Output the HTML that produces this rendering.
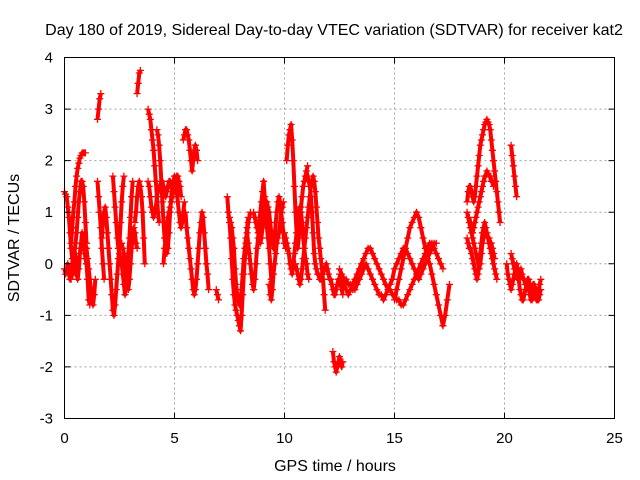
<!DOCTYPE html>
<html><head><meta charset="utf-8"><style>
body{margin:0;background:#fff}
svg{display:block;font-family:"Liberation Sans",Arial,sans-serif;font-size:14px}
</style></head><body>
<svg id="chart" width="640" height="480" viewBox="0 0 640 480">
<rect width="640" height="480" fill="#fff"/>
<g id="grid"></g>
<g id="pts"></g>
<rect x="64.5" y="57.5" width="550" height="361" fill="none" stroke="#000" stroke-width="1"/>
<g id="ticks"></g>
<text x="334" y="35" text-anchor="middle" font-size="16">Day 180 of 2019, Sidereal Day-to-day VTEC variation (SDTVAR) for receiver kat2</text>
<text x="335" y="471" text-anchor="middle" font-size="16">GPS time / hours</text>
<text transform="translate(19,238) rotate(-90)" text-anchor="middle" font-size="16">SDTVAR / TECUs</text>
</svg>
<script>
const xTicks=[0,5,10,15,20,25];
const yTicks=[-3,-2,-1,0,1,2,3,4];
const segStarts=[0,0.3,0.3,0,1.5,1.5,1.7,2.2,2.6,3.3,3.2,3.8,3.8,4.2,4.5,5.4,5.5,6.9,7.4,7.5,8.3,8.6,9.3,10.1,10.0,10.5,11.0,12.2,12.5,12.5,15.0,18.3,18.3,18.3,18.4,20.3,20.1,20.3];
const segSteps=[0.05,0.05,0.05,0.05,0.05,0.05,0.05,0.05,0.05,0.05,0.05,0.05,0.05,0.05,0.05,0.05,0.05,0.05,0.05,0.05,0.05,0.05,0.05,0.05,0.05,0.05,0.05,0.05,0.1,0.1,0.1,0.05,0.05,0.05,0.05,0.05,0.05,0.05];
const segValues=[
[1.4,1.35,1.3,1.1,0.9,0.6,0.3,0.1,0.0,-0.1,-0.2,-0.1,0,0.1,0.2,0.3,0.4,0.5,0.5,0.4,0.3,0.1,-0.1,-0.3,-0.5,-0.7,-0.8,-0.6,-0.3],
[0.4,0.7,1.0,1.2,1.5,1.7,1.85,1.95,2.05,2.1,2.15,2.15,2.15,2.15],
[-0.3,-0.2,0,0.2,0.4,0.6,0.9,1.2,1.4,1.6,1.6,1.5,1.2,0.8,0.4],
[-0.1,-0.2,-0.1,0,-0.2,-0.3,-0.2,0,0.2,0.3,0.1,-0.1,-0.3,-0.1,0.2,0.4,0.6,0.5,0.3,0.1,0.0,-0.3,-0.7,-0.8],
[2.8,3.0,3.2,3.3],
[1.6,1.3,1.0,0.7,0.3,0.0,-0.3],
[0.5,0.8,1.0,1.1,0.9,0.6,0.3,0,-0.3,-0.6,-0.9,-1.0,-0.8,-0.5,-0.2,0.1,0.4,0.8,1.2,1.5,1.7],
[1.7,1.4,1.1,0.8,0.5,0.3,0.2,0.1,0,-0.2,-0.4,-0.6,-0.4,-0.1,0.2,0.5,0.9,1.3,1.6],
[0.4,0.3,0.2,0.0,-0.2,-0.4,-0.5,-0.3,0,0.3,0.5,0.7,0.6,0.4,0.3],
[3.3,3.5,3.7,3.75],
[0.8,1.0,1.3,1.5,1.6,1.5,1.3,1.0,0.5,0.0],
[3.0,2.9,2.8,2.6,2.4,2.2,1.9,1.6,1.3,1.0,0.8],
[1.6,1.5,1.3,1.1,1.0,0.9,1.0,1.1,1.3,1.4,1.5,1.5,1.6,1.6,1.5,1.4,1.3,1.4,1.5,1.6,1.6,1.5,1.4],
[2.6,2.5,2.3,2.0,1.6,1.2,0.8,0.5,0.3,0.2,0.3,0.6,1.0,1.3,1.5,1.6,1.7,1.6,1.4,1.2,1.0,0.8,0.7,0.8,1.0,1.2],
[0.0,0.3,0.5,0.7,0.9,1.0,1.1,1.2,1.3,1.4,1.5,1.6,1.7,1.7,1.6,1.5,1.3],
[2.4,2.5,2.6,2.6,2.5,2.4,2.2,2.0,1.8,2.0,2.2,2.3,2.2,2.0],
[1.0,0.7,0.5,0.3,0.1,-0.1,-0.3,-0.5,-0.6,-0.5,-0.3,0.0,0.3,0.6,0.8,1.0,0.9,0.6,0.3,0.0,-0.2,-0.5],
[-0.5,-0.6,-0.7],
[1.3,1.0,0.8,0.5,0.1,-0.3,-0.6,-0.8,-0.9,-1.0,-1.1,-1.2,-1.3,-1.0,-0.6,-0.2,0.1,0.4,0.7,0.9],
[0.9,0.8,0.7,0.5,0.3,-0.1,-0.4,-0.6,-0.7,-0.8,-0.7,-0.5,-0.2,0.1,0.3,0.5,0.6,0.8,0.9,1.0],
[0.6,0.4,0.2,0.0,-0.2,-0.4,-0.5,-0.3,0,0.3,0.5,0.8,1.0,1.2,1.4,1.6,1.3,1.0,0.7,0.5,0.3,0.0,-0.3,-0.5],
[1.0,0.9,0.8,0.7,0.6,0.5,0.4,0.5,0.7,0.9,1.1,1.2,1.2,1.1,1.0,0.8,0.6,0.4,0.3,0.5,0.8,1.0,1.2,1.3,1.2,1.0,0.8,0.6,0.4,0.3],
[-0.4,-0.6,-0.7,-0.5,-0.2,0.0,0.2,0.4,0.5,0.6,0.8,1.0,1.1,1.2],
[2.0,2.3,2.5,2.6,2.7,2.4,2.0,1.5,1.0,0.6,0.3,0.5,0.8,1.1,1.3,1.5,1.6,1.7,1.8,1.9],
[0.6,0.5,0.4,0.3,0.2,0.0,-0.1,-0.2,0.0,0.2,0.4,0.6,0.8,1.0,1.1,1.0,0.8,0.5,0.3,0.1,0.0,-0.2,-0.3],
[0.0,-0.1,-0.2,-0.3,-0.4,-0.3,-0.1,0.1,0.3,0.5,0.7,0.9,1.1,1.3,1.5,1.6,1.7,1.6,1.4,1.1,0.8,0.5,0.3,0.1,-0.1,-0.3,-0.6,-0.9],
[1.8,1.7,1.6,1.5,1.3,1.0,0.6,0.2,0.0,-0.1,-0.2,-0.2,-0.3,-0.3,-0.2,-0.2,-0.1,-0.1,0.0,-0.1,-0.2,-0.3,-0.3,-0.4,-0.5,-0.6,-0.6,-0.5,-0.4,-0.3,-0.3,-0.4,-0.5,-0.6],
[-1.7,-1.9,-2.0,-2.1,-2.0,-1.9,-1.8,-1.9,-2.0,-1.9],
[-0.2,-0.3,-0.4,-0.5,-0.6,-0.5,-0.4,-0.3,-0.2,-0.1,0,0.1,0.2,0.3,0.3,0.2,0.1,0,-0.1,-0.2,-0.3,-0.4,-0.5,-0.5,-0.6,-0.6,-0.7,-0.7,-0.8,-0.8,-0.7,-0.6,-0.5,-0.4,-0.3,-0.2,-0.1,0,0.1,0.2,0.3,0.4,0.4,0.3,0.2,0.1,0.0,-0.1],
[-0.1,-0.2,-0.3,-0.3,-0.4,-0.4,-0.5,-0.5,-0.4,-0.3,-0.2,-0.1,0,-0.1,-0.2,-0.3,-0.4,-0.5,-0.6,-0.6,-0.7,-0.6,-0.5,-0.4,-0.3,-0.1,0,0.1,0.2,0.3,0.3,0.2,0.1,0,-0.1,-0.2,-0.3,-0.2,-0.1,0,0.1,0.2,0.3,0.4,0.4],
[-0.7,-0.5,-0.3,-0.1,0.1,0.3,0.5,0.7,0.8,0.9,1.0,0.9,0.7,0.5,0.3,0.1,0.0,-0.2,-0.4,-0.6,-0.8,-1.0,-1.2,-1.0,-0.7,-0.4],
[1.2,1.4,1.5,1.5,1.4,1.3,1.2,1.3,1.5,1.7,1.9,2.1,2.3,2.4,2.5,2.6,2.7,2.75,2.8,2.75,2.7,2.6,2.4,2.2,2.0,1.8,1.6,1.4,1.2,1.0,0.8],
[1.0,0.9,0.8,0.7,0.6,0.6,0.7,0.8,0.9,1.0,1.1,1.2,1.3,1.4,1.5,1.6,1.7,1.7,1.8,1.75,1.7,1.7,1.6,1.6,1.5],
[0.5,0.4,0.3,0.3,0.2,0.1,0.0,-0.1,-0.2,-0.3,-0.2,0.0,0.2,0.4,0.6,0.7,0.8,0.7,0.6,0.5,0.4,0.3,0.2,0.1,0.0,-0.1,-0.2,-0.3],
[0.9,0.8,0.6,0.5,0.4,0.3,0.2,0.1,0.0,-0.1,0.0,0.2,0.4,0.5,0.6,0.6,0.6,0.5,0.5,0.4,0.4,0.3,0.2,0.1],
[2.3,2.1,1.9,1.7,1.5,1.3],
[0.0,-0.2,-0.3,-0.4,-0.5,-0.4,-0.3,-0.2,-0.1,0.0,-0.1,-0.3,-0.5,-0.6,-0.7,-0.7,-0.6,-0.5,-0.4,-0.4,-0.5,-0.6,-0.7,-0.7,-0.6,-0.5,-0.6,-0.7,-0.7,-0.7,-0.6,-0.5],
[0.2,0.1,0.0,-0.1,-0.2,-0.2,-0.3,-0.3,-0.2,-0.1,-0.2,-0.3,-0.3,-0.4,-0.4,-0.3,-0.3,-0.4,-0.5,-0.5,-0.4,-0.4,-0.5,-0.5,-0.6,-0.5,-0.4,-0.3]
];
const NS='http://www.w3.org/2000/svg';
const X0=64.5,X1=614.5,Y0=418.5,Y1=57.5;
function xs(v){return X0+(v-0)/(25-0)*(X1-X0);}
function ys(v){return Y0-(v+3)/(7)*(Y0-Y1);}
const grid=document.getElementById('grid'),ticks=document.getElementById('ticks'),pts=document.getElementById('pts');
xTicks.forEach(t=>{
  const x=xs(t);
  if(t>0&&t<25){const g=document.createElementNS(NS,'line');
  
  
  g.setAttribute('x1',x);g.setAttribute('x2',x);g.setAttribute('y1',Y1);g.setAttribute('y2',Y0);
  g.setAttribute('stroke','#a0a0a0');g.setAttribute('stroke-dasharray','2,3');grid.appendChild(g);}
  const tk=document.createElementNS(NS,'path');
  
  
  tk.setAttribute('d',`M${x} ${Y0}v-6M${x} ${Y1}v6`);tk.setAttribute('stroke','#000');ticks.appendChild(tk);
  const tx=document.createElementNS(NS,'text');
  
  
  tx.setAttribute('x',x);tx.setAttribute('y',443);tx.setAttribute('text-anchor','middle');tx.setAttribute('font-size','15');
  tx.textContent=t;ticks.appendChild(tx);
});
yTicks.forEach(t=>{
  const y=ys(t);
  if(t>-3&&t<4){const g=document.createElementNS(NS,'line');
  
  
  g.setAttribute('x1',X0);g.setAttribute('x2',X1);g.setAttribute('y1',y);g.setAttribute('y2',y);
  g.setAttribute('stroke','#a0a0a0');g.setAttribute('stroke-dasharray','2,3');grid.appendChild(g);}
  const tk=document.createElementNS(NS,'path');
  
  
  tk.setAttribute('d',`M${X0} ${y}h6M${X1} ${y}h-6`);tk.setAttribute('stroke','#000');ticks.appendChild(tk);
  const tx=document.createElementNS(NS,'text');
  
  
  tx.setAttribute('x',53);tx.setAttribute('y',y+5);tx.setAttribute('text-anchor','end');tx.setAttribute('font-size','15');
  tx.textContent=t;ticks.appendChild(tx);
});
let d='',band='';
segValues.forEach((vals,i)=>{
  vals.forEach((v,j)=>{
    const x=xs(segStarts[i]+j*segSteps[i]),y=ys(v);
    d+=`M${(x-3.5).toFixed(1)} ${y.toFixed(1)}h7M${x.toFixed(1)} ${(y-3.5).toFixed(1)}v7`;
    band+=(j===0?'M':'L')+x.toFixed(1)+' '+y.toFixed(1);
  });
});
const b=document.createElementNS(NS,'path');


b.setAttribute('d',band);b.setAttribute('stroke','#f00');b.setAttribute('stroke-width','4');b.setAttribute('fill','none');b.setAttribute('stroke-linejoin','round');
pts.appendChild(b);
const p=document.createElementNS(NS,'path');


p.setAttribute('d',d);p.setAttribute('stroke','#f00');p.setAttribute('stroke-width','1.3');p.setAttribute('fill','none');
pts.appendChild(p);
</script>
</body></html>
